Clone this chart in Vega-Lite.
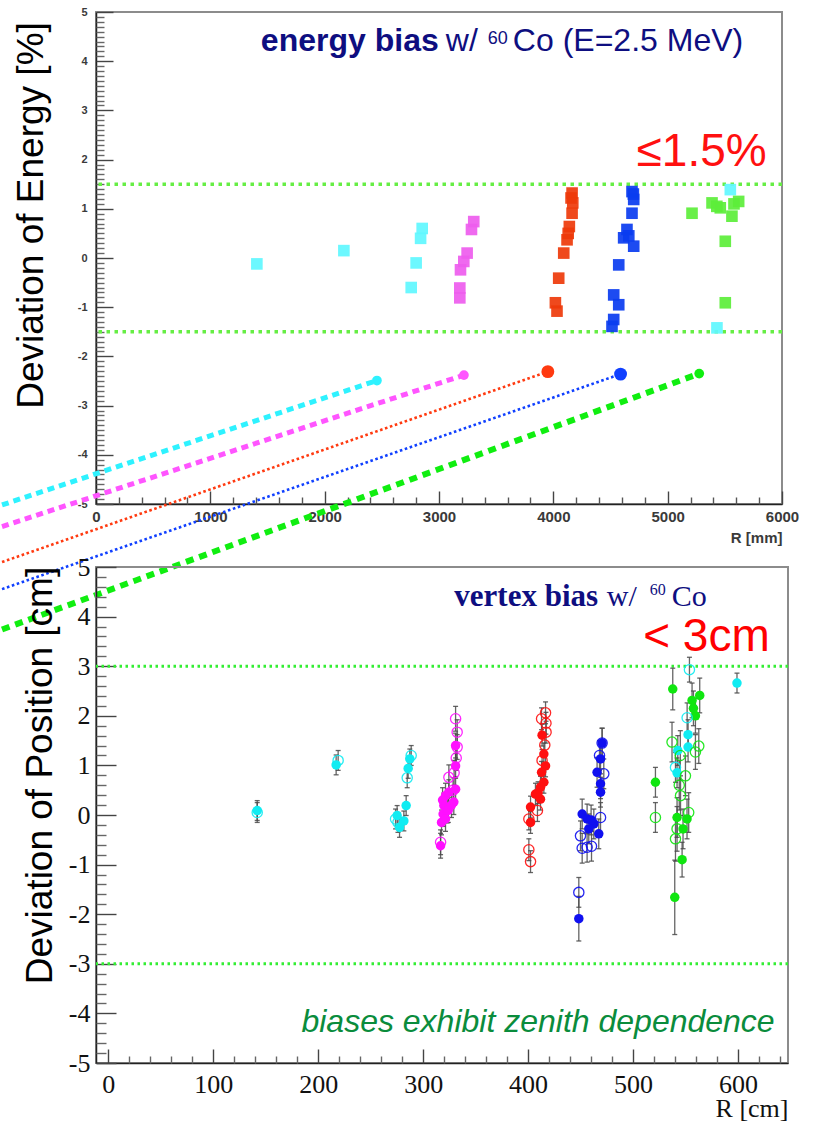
{
  "$schema": "https://vega.github.io/schema/vega-lite/v6.json",
  "background": "white",
  "autosize": {"type": "pad"},
  "padding": {"left": -11, "top": 5, "right": 0, "bottom": 0},
  "spacing": 63,
  "bounds": "flush",
  "config": {
    "view": {"stroke": "#8c8c8c", "strokeWidth": 2},
    "axis": {"grid": false, "domainColor": "#222222", "domainWidth": 1.5, "tickColor": "#555555", "tickWidth": 1.4, "labelFlush": false, "labelOverlap": false}
  },
  "datasets": {
    "energy": [
      {"c": "cy", "R": 1407, "dev": -0.12}, {"c": "cy", "R": 2168, "dev": 0.15}, {"c": "cy", "R": 2853, "dev": 0.6},
      {"c": "cy", "R": 2839, "dev": 0.4}, {"c": "cy", "R": 2800, "dev": -0.1}, {"c": "cy", "R": 2757, "dev": -0.6},
      {"c": "cy", "R": 5548, "dev": 1.39}, {"c": "cy", "R": 5431, "dev": -1.42},
      {"c": "mg", "R": 3304, "dev": 0.74}, {"c": "mg", "R": 3284, "dev": 0.58}, {"c": "mg", "R": 3246, "dev": 0.1},
      {"c": "mg", "R": 3217, "dev": -0.07}, {"c": "mg", "R": 3188, "dev": -0.24}, {"c": "mg", "R": 3182, "dev": -0.61},
      {"c": "mg", "R": 3182, "dev": -0.81},
      {"c": "rd", "R": 4164, "dev": 1.32}, {"c": "rd", "R": 4170, "dev": 1.12}, {"c": "rd", "R": 4164, "dev": 0.91},
      {"c": "rd", "R": 4140, "dev": 0.64}, {"c": "rd", "R": 4120, "dev": 0.37}, {"c": "rd", "R": 4091, "dev": 0.1},
      {"c": "rd", "R": 4047, "dev": -0.41}, {"c": "rd", "R": 4018, "dev": -0.91}, {"c": "rd", "R": 4032, "dev": -1.08},
      {"c": "rd", "R": 4155, "dev": 1.22}, {"c": "rd", "R": 4130, "dev": 0.5},
      {"c": "bl", "R": 4688, "dev": 1.35}, {"c": "bl", "R": 4703, "dev": 1.19}, {"c": "bl", "R": 4688, "dev": 0.91},
      {"c": "bl", "R": 4644, "dev": 0.58}, {"c": "bl", "R": 4615, "dev": 0.41}, {"c": "bl", "R": 4703, "dev": 0.24},
      {"c": "bl", "R": 4572, "dev": -0.14}, {"c": "bl", "R": 4528, "dev": -0.75}, {"c": "bl", "R": 4572, "dev": -0.95},
      {"c": "bl", "R": 4528, "dev": -1.25}, {"c": "bl", "R": 4513, "dev": -1.39}, {"c": "bl", "R": 4700, "dev": 1.3},
      {"c": "bl", "R": 4660, "dev": 0.45},
      {"c": "gr", "R": 5213, "dev": 0.91}, {"c": "gr", "R": 5388, "dev": 1.12}, {"c": "gr", "R": 5460, "dev": 1.02},
      {"c": "gr", "R": 5562, "dev": 0.85}, {"c": "gr", "R": 5621, "dev": 1.15}, {"c": "gr", "R": 5504, "dev": 0.34},
      {"c": "gr", "R": 5504, "dev": -0.91}, {"c": "gr", "R": 5580, "dev": 1.1}, {"c": "gr", "R": 5430, "dev": 1.05}
    ],
    "links": [
      {"c": "cy", "end": "dot", "R": 2457, "dev": -2.49}, {"c": "cy", "end": "tail", "R": -822, "dev": -5.02},
      {"c": "mg", "end": "dot", "R": 3218, "dev": -2.38}, {"c": "mg", "end": "tail", "R": -822, "dev": -5.46},
      {"c": "rd", "end": "dot", "R": 3952, "dev": -2.31}, {"c": "rd", "end": "tail", "R": -822, "dev": -6.18},
      {"c": "bl", "end": "dot", "R": 4588, "dev": -2.36}, {"c": "bl", "end": "tail", "R": -822, "dev": -6.73},
      {"c": "gr", "end": "dot", "R": 5276, "dev": -2.35}, {"c": "gr", "end": "tail", "R": -822, "dev": -7.55}
    ],
    "vertex": [
      {"c": "cy", "R": 141.9, "d": 0.09, "e": 0.2, "f": 1}, {"c": "cy", "R": 141.9, "d": 0.05, "e": 0.2, "f": 0},
      {"c": "cy", "R": 217.1, "d": 1.01, "e": 0.2, "f": 1}, {"c": "cy", "R": 219, "d": 1.1, "e": 0.2, "f": 0},
      {"c": "cy", "R": 287.3, "d": 1.13, "e": 0.2, "f": 1}, {"c": "cy", "R": 288.6, "d": 1.2, "e": 0.2, "f": 0},
      {"c": "cy", "R": 285.7, "d": 0.94, "e": 0.2, "f": 1}, {"c": "cy", "R": 284.8, "d": 0.75, "e": 0.2, "f": 0},
      {"c": "cy", "R": 283.8, "d": 0.19, "e": 0.2, "f": 1}, {"c": "cy", "R": 275.2, "d": -0.01, "e": 0.2, "f": 1},
      {"c": "cy", "R": 273.7, "d": -0.08, "e": 0.2, "f": 0}, {"c": "cy", "R": 281.6, "d": -0.12, "e": 0.2, "f": 1},
      {"c": "cy", "R": 277.5, "d": -0.25, "e": 0.2, "f": 1}, {"c": "cy", "R": 276, "d": -0.15, "e": 0.2, "f": 0},
      {"c": "cy", "R": 553.7, "d": 2.93, "e": 0.25, "f": 0}, {"c": "cy", "R": 599, "d": 2.66, "e": 0.2, "f": 1},
      {"c": "cy", "R": 551.5, "d": 1.96, "e": 0.3, "f": 0}, {"c": "cy", "R": 552.4, "d": 1.62, "e": 0.3, "f": 1},
      {"c": "cy", "R": 542.6, "d": 1.3, "e": 0.3, "f": 1}, {"c": "cy", "R": 552.4, "d": 1.37, "e": 0.3, "f": 1},
      {"c": "cy", "R": 540.4, "d": 0.96, "e": 0.3, "f": 0}, {"c": "cy", "R": 541.9, "d": 0.85, "e": 0.3, "f": 1},
      {"c": "mg", "R": 316.6, "d": -0.62, "e": 0.25, "f": 1}, {"c": "mg", "R": 316.6, "d": -0.55, "e": 0.25, "f": 0},
      {"c": "mg", "R": 317.5, "d": -0.15, "e": 0.25, "f": 1}, {"c": "mg", "R": 319, "d": 0.02, "e": 0.25, "f": 1},
      {"c": "mg", "R": 319.7, "d": 0.19, "e": 0.25, "f": 1}, {"c": "mg", "R": 321.3, "d": 0.39, "e": 0.25, "f": 1},
      {"c": "mg", "R": 324.5, "d": 0.46, "e": 0.25, "f": 1}, {"c": "mg", "R": 330.9, "d": 0.52, "e": 0.25, "f": 1},
      {"c": "mg", "R": 329.2, "d": 0.26, "e": 0.25, "f": 1}, {"c": "mg", "R": 330.9, "d": 0.99, "e": 0.25, "f": 1},
      {"c": "mg", "R": 330.9, "d": 1.4, "e": 0.25, "f": 1}, {"c": "mg", "R": 330.9, "d": 1.94, "e": 0.25, "f": 0},
      {"c": "mg", "R": 332.4, "d": 1.67, "e": 0.25, "f": 0}, {"c": "mg", "R": 332.4, "d": 1.37, "e": 0.25, "f": 0},
      {"c": "mg", "R": 324.5, "d": 0.76, "e": 0.25, "f": 0}, {"c": "mg", "R": 322.9, "d": 0.09, "e": 0.25, "f": 1},
      {"c": "mg", "R": 321.3, "d": -0.08, "e": 0.25, "f": 1}, {"c": "mg", "R": 318.5, "d": 0.3, "e": 0.25, "f": 1},
      {"c": "mg", "R": 327, "d": 0.2, "e": 0.25, "f": 1}, {"c": "mg", "R": 324, "d": 0.1, "e": 0.25, "f": 1},
      {"c": "mg", "R": 328.5, "d": 0.5, "e": 0.25, "f": 0}, {"c": "mg", "R": 331.5, "d": 1.15, "e": 0.25, "f": 0},
      {"c": "mg", "R": 329.5, "d": 0.85, "e": 0.25, "f": 0},
      {"c": "rd", "R": 416.6, "d": 2.06, "e": 0.22, "f": 0}, {"c": "rd", "R": 412.8, "d": 1.94, "e": 0.22, "f": 0},
      {"c": "rd", "R": 413.3, "d": 1.61, "e": 0.22, "f": 1}, {"c": "rd", "R": 417.1, "d": 1.67, "e": 0.22, "f": 0},
      {"c": "rd", "R": 415.9, "d": 1.41, "e": 0.22, "f": 0}, {"c": "rd", "R": 415, "d": 1.23, "e": 0.22, "f": 1},
      {"c": "rd", "R": 416.6, "d": 0.99, "e": 0.22, "f": 1}, {"c": "rd", "R": 413.3, "d": 1.1, "e": 0.22, "f": 0},
      {"c": "rd", "R": 415, "d": 0.66, "e": 0.22, "f": 1}, {"c": "rd", "R": 411.8, "d": 0.56, "e": 0.22, "f": 1},
      {"c": "rd", "R": 407, "d": 0.42, "e": 0.22, "f": 1}, {"c": "rd", "R": 411.8, "d": 0.32, "e": 0.22, "f": 1},
      {"c": "rd", "R": 402.3, "d": 0.16, "e": 0.22, "f": 1}, {"c": "rd", "R": 408.9, "d": 0.09, "e": 0.22, "f": 0},
      {"c": "rd", "R": 402.3, "d": -0.15, "e": 0.22, "f": 1}, {"c": "rd", "R": 400.7, "d": -0.08, "e": 0.22, "f": 0},
      {"c": "rd", "R": 400.7, "d": -0.7, "e": 0.22, "f": 0}, {"c": "rd", "R": 402.3, "d": -0.94, "e": 0.22, "f": 0},
      {"c": "rd", "R": 412.8, "d": 0.86, "e": 0.22, "f": 1}, {"c": "rd", "R": 409.5, "d": 0.45, "e": 0.22, "f": 1},
      {"c": "rd", "R": 417, "d": 1.85, "e": 0.22, "f": 0},
      {"c": "bl", "R": 470.5, "d": 1.45, "e": 0.3, "f": 0}, {"c": "bl", "R": 470.5, "d": 1.45, "e": 0.3, "f": 1},
      {"c": "bl", "R": 469, "d": 1.13, "e": 0.3, "f": 1}, {"c": "bl", "R": 468, "d": 1.2, "e": 0.3, "f": 0},
      {"c": "bl", "R": 465.7, "d": 0.86, "e": 0.3, "f": 1}, {"c": "bl", "R": 472.1, "d": 0.83, "e": 0.3, "f": 0},
      {"c": "bl", "R": 469, "d": 0.63, "e": 0.3, "f": 1}, {"c": "bl", "R": 469, "d": 0.46, "e": 0.3, "f": 1},
      {"c": "bl", "R": 469, "d": -0.05, "e": 0.3, "f": 0}, {"c": "bl", "R": 451.5, "d": 0.02, "e": 0.3, "f": 1},
      {"c": "bl", "R": 456.2, "d": -0.08, "e": 0.3, "f": 1}, {"c": "bl", "R": 462.6, "d": -0.18, "e": 0.3, "f": 1},
      {"c": "bl", "R": 457.8, "d": -0.28, "e": 0.3, "f": 1}, {"c": "bl", "R": 467.3, "d": -0.38, "e": 0.3, "f": 1},
      {"c": "bl", "R": 449.9, "d": -0.42, "e": 0.3, "f": 0}, {"c": "bl", "R": 451.5, "d": -0.67, "e": 0.3, "f": 0},
      {"c": "bl", "R": 456.2, "d": -0.65, "e": 0.3, "f": 0}, {"c": "bl", "R": 460.4, "d": -0.63, "e": 0.3, "f": 0},
      {"c": "bl", "R": 448.3, "d": -1.56, "e": 0.3, "f": 0}, {"c": "bl", "R": 448.3, "d": -2.09, "e": 0.45, "f": 1},
      {"c": "bl", "R": 460, "d": -0.1, "e": 0.3, "f": 1},
      {"c": "gr", "R": 521.3, "d": 0.66, "e": 0.3, "f": 1}, {"c": "gr", "R": 521.3, "d": -0.05, "e": 0.3, "f": 0},
      {"c": "gr", "R": 537.8, "d": 2.54, "e": 0.42, "f": 1}, {"c": "gr", "R": 539.7, "d": -1.66, "e": 0.75, "f": 1},
      {"c": "gr", "R": 537.1, "d": 1.47, "e": 0.4, "f": 0}, {"c": "gr", "R": 545.2, "d": 0.39, "e": 0.4, "f": 0},
      {"c": "gr", "R": 541.9, "d": -0.05, "e": 0.4, "f": 1}, {"c": "gr", "R": 540.4, "d": -0.48, "e": 0.45, "f": 0},
      {"c": "gr", "R": 547.6, "d": -0.28, "e": 0.4, "f": 1}, {"c": "gr", "R": 551.4, "d": -0.08, "e": 0.4, "f": 1},
      {"c": "gr", "R": 546.7, "d": -0.9, "e": 0.35, "f": 1}, {"c": "gr", "R": 549.9, "d": 0.79, "e": 0.4, "f": 0},
      {"c": "gr", "R": 553, "d": 0.05, "e": 0.4, "f": 0}, {"c": "gr", "R": 556.2, "d": 2.31, "e": 0.35, "f": 1},
      {"c": "gr", "R": 563.5, "d": 2.41, "e": 0.35, "f": 1}, {"c": "gr", "R": 559.4, "d": 2.0, "e": 0.35, "f": 1},
      {"c": "gr", "R": 557.5, "d": 2.15, "e": 0.35, "f": 1}, {"c": "gr", "R": 562.6, "d": 1.39, "e": 0.35, "f": 0},
      {"c": "gr", "R": 559.4, "d": 1.27, "e": 0.35, "f": 0}, {"c": "gr", "R": 541.9, "d": -0.28, "e": 0.45, "f": 0},
      {"c": "gr", "R": 544, "d": 0.6, "e": 0.5, "f": 0}, {"c": "gr", "R": 545, "d": 1.2, "e": 0.5, "f": 0}
    ]
  },
  "vconcat": [
    {
      "width": 686,
      "height": 492,
      "resolve": {"axis": {"x": "independent", "y": "independent"}, "scale": {"color": "independent"}},
      "layer": [
        {
          "data": {"values": [{"lim": 1.5}, {"lim": -1.5}]},
          "mark": {"type": "rule", "color": "#66ee44", "strokeWidth": 3.5, "strokeDash": [3.5, 4.5]},
          "encoding": {"y": {"field": "lim", "type": "quantitative", "scale": {"domain": [-5, 5], "nice": false}, "axis": null}}
        },
        {
          "data": {"name": "energy"},
          "mark": {"type": "square", "size": 135, "opacity": 0.92},
          "encoding": {
            "x": {"field": "R", "type": "quantitative", "scale": {"domain": [0, 6000], "nice": false, "zero": false},
              "axis": {"orient": "bottom", "values": [0, 1000, 2000, 3000, 4000, 5000, 6000], "format": "d", "ticks": false,
                "labelFont": "Liberation Sans", "labelFontWeight": "bold", "labelFontSize": 15, "labelColor": "#3a3a3a", "labelPadding": 5,
                "title": "R [mm]", "titleFont": "Liberation Sans", "titleFontWeight": "bold", "titleFontSize": 15, "titleColor": "#3a3a3a",
                "titleAnchor": "end", "titleAlign": "right", "titleX": 686, "titleY": 38, "titleBaseline": "alphabetic"}},
            "y": {"field": "dev", "type": "quantitative", "scale": {"domain": [-5, 5], "nice": false},
              "axis": {"orient": "left", "values": [-5, -4, -3, -2, -1, 0, 1, 2, 3, 4, 5], "ticks": false,
                "labelExpr": "replace(datum.label, '−', '-')",
                "labelFont": "Liberation Sans", "labelFontWeight": "bold", "labelFontSize": 11, "labelColor": "#3a3a3a", "labelPadding": 9,
                "title": "Deviation of Energy [%]", "titleFont": "Liberation Sans", "titleFontWeight": "normal", "titleFontSize": 37, "titleColor": "#000000",
                "titleX": -46, "titleY": 203, "titleAngle": -90, "titleAlign": "center", "titleBaseline": "bottom"}},
            "color": {"field": "c", "type": "nominal", "legend": null,
              "scale": {"domain": ["cy", "mg", "rd", "bl", "gr"], "range": ["#5ff7ff", "#ee5cee", "#ee3a0a", "#0a3cf0", "#5cee3a"]}}
          }
        },
        {
          "data": {"name": "links"},
          "transform": [{"filter": "datum.c == 'cy' || datum.c == 'mg'"}],
          "mark": {"type": "line", "strokeWidth": 5, "strokeDash": [7, 5]},
          "encoding": {
            "x": {"field": "R", "type": "quantitative", "axis": {"orient": "bottom", "values": [0, 1000, 2000, 3000, 4000, 5000, 6000], "labels": false, "domain": false, "tickSize": -13, "tickColor": "#444444", "title": null}},
            "y": {"field": "dev", "type": "quantitative", "axis": {"orient": "left", "values": [-5, -4, -3, -2, -1, 0, 1, 2, 3, 4, 5], "labels": false, "domain": false, "tickSize": -17, "tickColor": "#444444", "title": null}},
            "color": {"field": "c", "type": "nominal", "legend": null, "scale": {"domain": ["cy", "mg", "rd", "bl", "gr"], "range": ["#2ef2ff", "#ff55ff", "#ff3a10", "#1040ff", "#10ee10"]}}
          }
        },
        {
          "data": {"name": "links"},
          "transform": [{"filter": "datum.c == 'rd' || datum.c == 'bl'"}],
          "mark": {"type": "line", "strokeWidth": 2.6, "strokeDash": [2.6, 2.6]},
          "encoding": {
            "x": {"field": "R", "type": "quantitative", "axis": null},
            "y": {"field": "dev", "type": "quantitative", "axis": null},
            "color": {"field": "c", "type": "nominal", "legend": null, "scale": {"domain": ["cy", "mg", "rd", "bl", "gr"], "range": ["#2ef2ff", "#ff55ff", "#ff3a10", "#1040ff", "#10ee10"]}}
          }
        },
        {
          "data": {"name": "links"},
          "transform": [{"filter": "datum.c == 'gr'"}],
          "mark": {"type": "line", "strokeWidth": 6, "strokeDash": [8, 6]},
          "encoding": {
            "x": {"field": "R", "type": "quantitative", "axis": null},
            "y": {"field": "dev", "type": "quantitative", "axis": null},
            "color": {"field": "c", "type": "nominal", "legend": null, "scale": {"domain": ["cy", "mg", "rd", "bl", "gr"], "range": ["#2ef2ff", "#ff55ff", "#ff3a10", "#1040ff", "#10ee10"]}}
          }
        },
        {
          "data": {"name": "links"},
          "transform": [{"filter": "datum.end == 'dot' && (datum.c == 'cy' || datum.c == 'mg' || datum.c == 'gr')"}],
          "mark": {"type": "circle", "size": 95, "opacity": 1},
          "encoding": {
            "x": {"field": "R", "type": "quantitative",
              "axis": {"orient": "bottom", "values": [200, 400, 600, 800, 1200, 1400, 1600, 1800, 2200, 2400, 2600, 2800, 3200, 3400, 3600, 3800, 4200, 4400, 4600, 4800, 5200, 5400, 5600, 5800], "labels": false, "domain": false, "tickSize": -7, "tickColor": "#555555", "title": null}},
            "y": {"field": "dev", "type": "quantitative",
              "axis": {"orient": "left", "values": [-4.9, -4.8, -4.7, -4.6, -4.5, -4.4, -4.3, -4.2, -4.1, -3.9, -3.8, -3.7, -3.6, -3.5, -3.4, -3.3, -3.2, -3.1, -2.9, -2.8, -2.7, -2.6, -2.5, -2.4, -2.3, -2.2, -2.1, -1.9, -1.8, -1.7, -1.6, -1.5, -1.4, -1.3, -1.2, -1.1, -0.9, -0.8, -0.7, -0.6, -0.5, -0.4, -0.3, -0.2, -0.1, 0.1, 0.2, 0.3, 0.4, 0.5, 0.6, 0.7, 0.8, 0.9, 1.1, 1.2, 1.3, 1.4, 1.5, 1.6, 1.7, 1.8, 1.9, 2.1, 2.2, 2.3, 2.4, 2.5, 2.6, 2.7, 2.8, 2.9, 3.1, 3.2, 3.3, 3.4, 3.5, 3.6, 3.7, 3.8, 3.9, 4.1, 4.2, 4.3, 4.4, 4.5, 4.6, 4.7, 4.8, 4.9], "labels": false, "domain": false, "tickSize": -8, "tickColor": "#666666", "title": null}},
            "color": {"field": "c", "type": "nominal", "legend": null, "scale": {"domain": ["cy", "mg", "rd", "bl", "gr"], "range": ["#2ef2ff", "#ff55ff", "#ff3a10", "#1040ff", "#10ee10"]}}
          }
        },
        {
          "data": {"name": "links"},
          "transform": [{"filter": "datum.end == 'dot' && (datum.c == 'rd' || datum.c == 'bl')"}],
          "mark": {"type": "circle", "size": 165, "opacity": 1},
          "encoding": {
            "x": {"field": "R", "type": "quantitative", "axis": null},
            "y": {"field": "dev", "type": "quantitative", "axis": null},
            "color": {"field": "c", "type": "nominal", "legend": null, "scale": {"domain": ["cy", "mg", "rd", "bl", "gr"], "range": ["#2ef2ff", "#ff55ff", "#ff3a10", "#1040ff", "#10ee10"]}}
          }
        },
        {
          "data": {"values": [{"x": 1442, "y": 4.2, "t": "energy bias"}]},
          "mark": {"type": "text", "font": "Liberation Sans", "fontSize": 32, "fontWeight": "bold", "color": "#0e0e80", "align": "left", "baseline": "alphabetic"},
          "encoding": {"x": {"field": "x", "type": "quantitative", "axis": null}, "y": {"field": "y", "type": "quantitative", "axis": null}, "text": {"field": "t"}}
        },
        {
          "data": {"values": [{"x": 3060, "y": 4.2, "t": "w/"}, {"x": 3646, "y": 4.2, "t": "Co (E=2.5 MeV)"}]},
          "mark": {"type": "text", "font": "Liberation Sans", "fontSize": 32, "color": "#0e0e80", "align": "left", "baseline": "alphabetic"},
          "encoding": {"x": {"field": "x", "type": "quantitative", "axis": null}, "y": {"field": "y", "type": "quantitative", "axis": null}, "text": {"field": "t"}}
        },
        {
          "data": {"values": [{"x": 3427, "y": 4.34, "t": "60"}]},
          "mark": {"type": "text", "font": "Liberation Sans", "fontSize": 18, "color": "#0e0e80", "align": "left", "baseline": "alphabetic"},
          "encoding": {"x": {"field": "x", "type": "quantitative", "axis": null}, "y": {"field": "y", "type": "quantitative", "axis": null}, "text": {"field": "t"}}
        },
        {
          "data": {"values": [{"x": 5866, "y": 1.86, "t": "≤1.5%"}]},
          "mark": {"type": "text", "font": "Liberation Sans", "fontSize": 46, "color": "#ff1010", "align": "right", "baseline": "alphabetic"},
          "encoding": {"x": {"field": "x", "type": "quantitative", "axis": null}, "y": {"field": "y", "type": "quantitative", "axis": null}, "text": {"field": "t"}}
        }
      ]
    },
    {
      "width": 692,
      "height": 496,
      "resolve": {"axis": {"x": "independent", "y": "independent"}},
      "layer": [
        {
          "data": {"values": [{"lim": 3}, {"lim": -3}]},
          "mark": {"type": "rule", "color": "#33ee33", "strokeWidth": 3, "strokeDash": [2.5, 3.5]},
          "encoding": {"y": {"field": "lim", "type": "quantitative", "scale": {"domain": [-5, 5], "nice": false}, "axis": null}}
        },
        {
          "data": {"name": "vertex"},
          "mark": {"type": "errorbar", "ticks": {"size": 5}, "thickness": 1.3, "color": "#4a4a4a", "opacity": 0.85},
          "encoding": {
            "x": {"field": "R", "type": "quantitative", "scale": {"domain": [-11.7, 647.6], "nice": false, "zero": false}, "axis": null},
            "y": {"field": "d", "type": "quantitative", "scale": {"domain": [-5, 5], "nice": false}, "axis": null},
            "yError": {"field": "e"}
          }
        },
        {
          "data": {"name": "vertex"},
          "transform": [{"filter": "datum.f == 1"}],
          "mark": {"type": "circle", "size": 90, "opacity": 1},
          "encoding": {
            "x": {"field": "R", "type": "quantitative",
              "axis": {"orient": "bottom", "values": [0, 100, 200, 300, 400, 500, 600], "format": "d", "ticks": false,
                "labelFont": "Liberation Serif", "labelFontSize": 26, "labelColor": "#111111", "labelPadding": 8,
                "title": "R [cm]", "titleFont": "Liberation Serif", "titleFontWeight": "normal", "titleFontSize": 26, "titleColor": "#111111",
                "titleAnchor": "end", "titleAlign": "right", "titleX": 692, "titleY": 53, "titleBaseline": "alphabetic"}},
            "y": {"field": "d", "type": "quantitative",
              "axis": {"orient": "left", "values": [-5, -4, -3, -2, -1, 0, 1, 2, 3, 4, 5], "ticks": false,
                "labelExpr": "replace(datum.label, '−', '-')",
                "labelFont": "Liberation Serif", "labelFontSize": 26, "labelColor": "#111111", "labelPadding": 6,
                "title": "Deviation of Position [cm]", "titleFont": "Liberation Sans", "titleFontWeight": "normal", "titleFontSize": 37, "titleColor": "#000000",
                "titleX": -37, "titleY": 208, "titleAngle": -90, "titleAlign": "center", "titleBaseline": "bottom"}},
            "color": {"field": "c", "type": "nominal", "legend": null,
              "scale": {"domain": ["cy", "mg", "rd", "bl", "gr"], "range": ["#10ecf2", "#ff10ff", "#ff1010", "#1010f0", "#10e610"]}}
          }
        },
        {
          "data": {"name": "vertex"},
          "transform": [{"filter": "datum.f == 0"}],
          "mark": {"type": "point", "shape": "circle", "filled": false, "size": 105, "strokeWidth": 1.3, "opacity": 0.9},
          "encoding": {
            "x": {"field": "R", "type": "quantitative",
              "axis": {"orient": "bottom", "values": [0, 100, 200, 300, 400, 500, 600], "labels": false, "domain": false, "tickSize": -14, "tickColor": "#444444", "title": null}},
            "y": {"field": "d", "type": "quantitative",
              "axis": {"orient": "left", "values": [-5, -4, -3, -2, -1, 0, 1, 2, 3, 4, 5], "labels": false, "domain": false, "tickSize": -20, "tickColor": "#444444", "title": null}},
            "color": {"field": "c", "type": "nominal", "legend": null,
              "scale": {"domain": ["cy", "mg", "rd", "bl", "gr"], "range": ["#10ecf2", "#ff10ff", "#ff1010", "#1010f0", "#10e610"]}}
          }
        },
        {
          "data": {"values": [{"x": 634.9, "y": -4.38, "t": "biases exhibit zenith dependence"}]},
          "mark": {"type": "text", "font": "Liberation Sans", "fontSize": 32, "fontStyle": "italic", "color": "#0a8c3c", "align": "right", "baseline": "alphabetic"},
          "encoding": {
            "x": {"field": "x", "type": "quantitative",
              "axis": {"orient": "bottom", "values": [20, 40, 60, 80, 120, 140, 160, 180, 220, 240, 260, 280, 320, 340, 360, 380, 420, 440, 460, 480, 520, 540, 560, 580, 620, 640], "labels": false, "domain": false, "tickSize": -7, "tickColor": "#666666", "title": null}},
            "y": {"field": "y", "type": "quantitative",
              "axis": {"orient": "left", "values": [-4.8, -4.6, -4.4, -4.2, -3.8, -3.6, -3.4, -3.2, -2.8, -2.6, -2.4, -2.2, -1.8, -1.6, -1.4, -1.2, -0.8, -0.6, -0.4, -0.2, 0.2, 0.4, 0.6, 0.8, 1.2, 1.4, 1.6, 1.8, 2.2, 2.4, 2.6, 2.8, 3.2, 3.4, 3.6, 3.8, 4.2, 4.4, 4.6, 4.8], "labels": false, "domain": false, "tickSize": -10, "tickColor": "#666666", "title": null}},
            "text": {"field": "t"}
          }
        },
        {
          "data": {"values": [{"x": 329.7, "y": 4.22, "t": "vertex bias"}]},
          "mark": {"type": "text", "font": "Liberation Serif", "fontSize": 31, "fontWeight": "bold", "color": "#0e0e80", "align": "left", "baseline": "alphabetic"},
          "encoding": {"x": {"field": "x", "type": "quantitative", "axis": null}, "y": {"field": "y", "type": "quantitative", "axis": null}, "text": {"field": "t"}}
        },
        {
          "data": {"values": [{"x": 475, "y": 4.22, "t": "w/"}, {"x": 536.8, "y": 4.22, "t": "Co"}]},
          "mark": {"type": "text", "font": "Liberation Serif", "fontSize": 30, "color": "#0e0e80", "align": "left", "baseline": "alphabetic"},
          "encoding": {"x": {"field": "x", "type": "quantitative", "axis": null}, "y": {"field": "y", "type": "quantitative", "axis": null}, "text": {"field": "t"}}
        },
        {
          "data": {"values": [{"x": 516, "y": 4.44, "t": "60"}]},
          "mark": {"type": "text", "font": "Liberation Serif", "fontSize": 16, "color": "#0e0e80", "align": "left", "baseline": "alphabetic"},
          "encoding": {"x": {"field": "x", "type": "quantitative", "axis": null}, "y": {"field": "y", "type": "quantitative", "axis": null}, "text": {"field": "t"}}
        },
        {
          "data": {"values": [{"x": 630.2, "y": 3.31, "t": "< 3cm"}]},
          "mark": {"type": "text", "font": "Liberation Sans", "fontSize": 46, "color": "#ff0000", "align": "right", "baseline": "alphabetic"},
          "encoding": {"x": {"field": "x", "type": "quantitative", "axis": null}, "y": {"field": "y", "type": "quantitative", "axis": null}, "text": {"field": "t"}}
        }
      ]
    }
  ]
}
